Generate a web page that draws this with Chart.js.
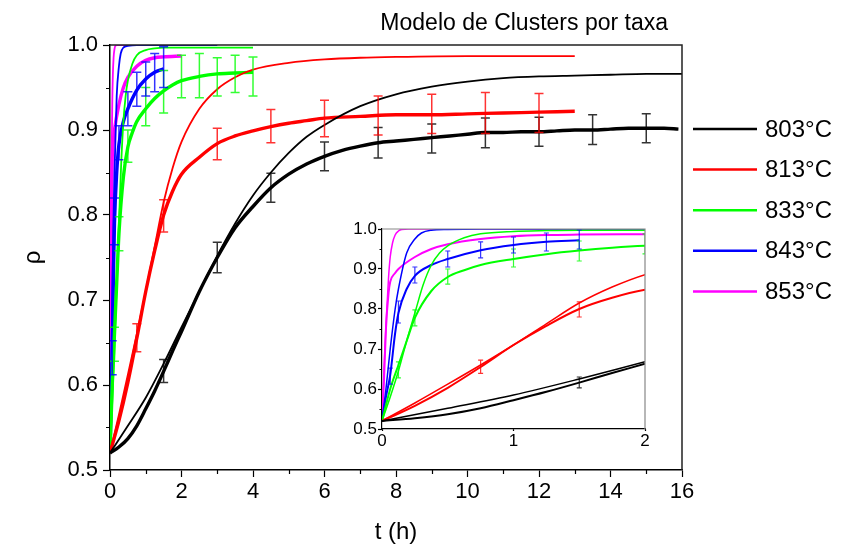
<!DOCTYPE html>
<html><head><meta charset="utf-8">
<script src="https://cdn.jsdelivr.net/npm/chart.js@4.4.1/dist/chart.umd.min.js"></script>
<style>
html,body{margin:0;padding:0;background:#fff;}
#wrap{position:relative;width:843px;height:550px;}
#main{position:absolute;left:0;top:0;}
#inset{position:absolute;left:330px;top:215px;}
</style></head><body>
<div id="wrap"><canvas id="main" width="843" height="550"></canvas><canvas id="inset" width="330" height="240"></canvas></div>
<script>
// ---------- data ----------
const seriesLabels = ['803°C', '813°C', '833°C', '843°C', '853°C'];
const seriesColors = ['#000000', '#ff0000', '#00ff00', '#0000ff', '#ff00ff'];
const chartTitle = 'Modelo de Clusters por taxa';
const xTitle = 't (h)';
const yTitle = 'ρ';

// 803°C
const tBlackData = [0,0.25,0.5,0.75,1,1.25,1.5,1.75,2,2.5,3,3.5,4,4.5,5,5.5,6,6.5,7,7.5,8,8.5,9,9.5,10,10.5,11,11.5,12,12.5,13,13.5,14,14.5,15,15.5,15.9];
const rhoBlackData = [0.52,0.527,0.537,0.552,0.572,0.593,0.616,0.64,0.663,0.71,0.75,0.785,0.81,0.832,0.848,0.86,0.869,0.876,0.881,0.885,0.887,0.889,0.891,0.893,0.895,0.897,0.897,0.898,0.898,0.899,0.9,0.9,0.901,0.902,0.902,0.902,0.901];
const tBlackModel = [0,0.5,1,1.5,2,2.5,3,3.5,4,4.5,5,5.5,6,7,8,9,10,11,12,13,14,15,16];
const rhoBlackModel = [0.52,0.552,0.585,0.625,0.668,0.71,0.752,0.79,0.823,0.85,0.873,0.892,0.906,0.928,0.942,0.951,0.957,0.961,0.963,0.964,0.965,0.966,0.966];
const ebBlack = [[1.5,0.603,0.63],[3,0.732,0.768],[4.5,0.815,0.849],[6,0.852,0.886],[7.5,0.867,0.903],[9,0.873,0.907],[10.5,0.879,0.914],[12,0.881,0.915],[13.5,0.883,0.918],[15,0.885,0.919]];

// 813°C
const tRedData = [0,0.25,0.5,0.75,1,1.25,1.5,1.75,2,2.5,3,3.5,4,4.5,5,5.5,6,7,8,9,10,11,12,13];
const rhoRedData = [0.52,0.558,0.603,0.655,0.71,0.758,0.80,0.828,0.848,0.868,0.884,0.893,0.899,0.904,0.908,0.911,0.914,0.916,0.918,0.918,0.919,0.92,0.921,0.922];
const tRedModel = [0,0.25,0.5,0.75,1,1.25,1.5,1.75,2,2.5,3,3.5,4,5,6,7,8,10,13];
const rhoRedModel = [0.52,0.565,0.612,0.66,0.71,0.763,0.815,0.855,0.886,0.925,0.948,0.962,0.971,0.979,0.983,0.985,0.986,0.987,0.987];
const ebRed = [[0.75,0.639,0.672],[1.5,0.78,0.818],[3,0.865,0.902],[4.5,0.885,0.924],[6,0.892,0.935],[7.5,0.894,0.94],[9,0.896,0.942],[10.5,0.896,0.944],[12,0.897,0.943]];

// 833°C
const tGreenData = [0,0.0625,0.125,0.1875,0.25,0.375,0.5,0.625,0.75,1,1.25,1.5,1.75,2,2.5,3,3.5,4];
const rhoGreenData = [0.52,0.6,0.66,0.72,0.778,0.845,0.88,0.897,0.91,0.925,0.937,0.946,0.953,0.958,0.963,0.966,0.967,0.968];
const tGreenModel = [0,0.0625,0.125,0.1875,0.25,0.3125,0.375,0.4375,0.5,0.625,0.75,1,1.25,1.5,2,3,4];
const rhoGreenModel = [0.52,0.58,0.645,0.72,0.79,0.86,0.91,0.94,0.958,0.978,0.988,0.994,0.996,0.997,0.997,0.997,0.997];
const ebGreen = [[0.125,0.628,0.668],[0.25,0.758,0.798],[0.5,0.862,0.9],[1,0.905,0.95],[1.5,0.92,0.97],[2,0.938,0.988],[2.5,0.938,0.99],[3,0.94,0.985],[3.5,0.944,0.988],[4,0.94,0.986]];

// 843°C
const tBlueData = [0,0.03,0.0625,0.1,0.125,0.1875,0.25,0.375,0.5,0.75,1,1.25,1.5];
const rhoBlueData = [0.52,0.58,0.635,0.74,0.79,0.85,0.883,0.91,0.925,0.947,0.96,0.968,0.972];
const tBlueModel = [0,0.03,0.0625,0.1,0.125,0.1875,0.25,0.3,0.375,0.5,0.75,3];
const rhoBlueModel = [0.52,0.6,0.7,0.8,0.85,0.94,0.975,0.99,0.997,0.999,1.0,1.0];
const ebBlue = [[0.0625,0.612,0.652],[0.125,0.765,0.82],[0.25,0.865,0.905],[0.5,0.905,0.945],[0.75,0.928,0.968],[1,0.94,0.98],[1.25,0.945,0.99],[1.5,0.95,0.998]];

// 853°C
const tMagData = [0,0.015,0.03,0.05,0.0625,0.1,0.125,0.25,0.375,0.5,0.75,1,1.25,1.5,2];
const rhoMagData = [0.52,0.62,0.75,0.84,0.868,0.89,0.9,0.93,0.95,0.962,0.975,0.982,0.985,0.986,0.987];
const tMagModel = [0,0.015,0.03,0.05,0.0625,0.08,0.1,0.125,0.15,0.2,2];
const rhoMagModel = [0.52,0.65,0.76,0.88,0.93,0.965,0.985,0.995,0.999,1.0,1.0];
const ebMag = [];

const xTicksMain = {min: 0, max: 16, step: 2};
const yTicks = {min: 0.5, max: 1.0, step: 0.1};
const xTicksInset = {min: 0, max: 2, step: 1};

// ---------- build ----------
const FONT = "'Liberation Sans', Arial, Helvetica, sans-serif";
const groups = [
  {t: tBlackData, r: rhoBlackData, tm: tBlackModel, rm: rhoBlackModel, eb: ebBlack},
  {t: tRedData, r: rhoRedData, tm: tRedModel, rm: rhoRedModel, eb: ebRed},
  {t: tGreenData, r: rhoGreenData, tm: tGreenModel, rm: rhoGreenModel, eb: ebGreen},
  {t: tBlueData, r: rhoBlueData, tm: tBlueModel, rm: rhoBlueModel, eb: ebBlue},
  {t: tMagData, r: rhoMagData, tm: tMagModel, rm: rhoMagModel, eb: ebMag}
];
const zip = (a, b) => a.map((v, i) => ({x: v, y: b[i]}));

function makeDatasets(dataW, modelW) {
  const ds = [];
  groups.forEach((g, i) => {
    ds.push({label: seriesLabels[i] + ' data', data: zip(g.t, g.r), borderColor: seriesColors[i],
      borderWidth: dataW, pointRadius: 0, cubicInterpolationMode: 'monotone', fill: false});
    ds.push({label: seriesLabels[i], data: zip(g.tm, g.rm), borderColor: seriesColors[i],
      borderWidth: modelW, pointRadius: 0, cubicInterpolationMode: 'monotone', fill: false});
  });
  return ds;
}

function makeDecor(cfg) {
  return {
    id: 'decor',
    afterDatasetsDraw(chart) {
      const {ctx, chartArea: ca, scales: {x, y}} = chart;
      ctx.save();
      ctx.beginPath();
      ctx.rect(ca.left, ca.top - 2, ca.right - ca.left, ca.bottom - ca.top + 4);
      ctx.clip();
      groups.forEach((g, i) => {
        ctx.strokeStyle = seriesColors[i];
        ctx.globalAlpha = 0.8;
        ctx.lineWidth = cfg.ebWidth;
        g.eb.forEach(([t, lo, hi]) => {
          const px = x.getPixelForValue(t), p1 = y.getPixelForValue(lo), p2 = y.getPixelForValue(hi);
          ctx.beginPath();
          ctx.moveTo(px, p1); ctx.lineTo(px, p2);
          ctx.moveTo(px - cfg.cap, p1); ctx.lineTo(px + cfg.cap, p1);
          ctx.moveTo(px - cfg.cap, p2); ctx.lineTo(px + cfg.cap, p2);
          ctx.stroke();
        });
      });
      ctx.restore();
    },
    afterDraw(chart) {
      const {ctx, chartArea: ca, scales: {x, y}} = chart;
      ctx.save();
      // frame top/right
      ctx.strokeStyle = cfg.frameColor;
      ctx.lineWidth = cfg.frameWidth;
      ctx.beginPath();
      ctx.moveTo(ca.left, ca.top); ctx.lineTo(ca.right, ca.top); ctx.lineTo(ca.right, ca.bottom);
      ctx.stroke();
      // minor ticks
      ctx.strokeStyle = '#000';
      ctx.lineWidth = 1.2;
      ctx.beginPath();
      for (let v = yTicks.min + yTicks.step / 2; v < yTicks.max; v += yTicks.step) {
        const py = Math.round(y.getPixelForValue(v)) + 0.5;
        ctx.moveTo(ca.left, py); ctx.lineTo(ca.left - cfg.minor, py);
      }
      if (cfg.xMinor) {
        for (let v = x.min + cfg.xStep / 2; v < x.max; v += cfg.xStep) {
          const px = Math.round(x.getPixelForValue(v)) + 0.5;
          ctx.moveTo(px, ca.bottom); ctx.lineTo(px, ca.bottom + cfg.minor);
        }
      }
      ctx.stroke();
      if (cfg.legend) {
        ctx.textBaseline = 'middle';
        ctx.textAlign = 'left';
        ctx.font = '24px ' + FONT;
        seriesLabels.forEach((lab, i) => {
          const yy = 129 + i * 40.6;
          ctx.strokeStyle = seriesColors[i];
          ctx.lineWidth = 2.5;
          ctx.beginPath(); ctx.moveTo(693, yy); ctx.lineTo(757, yy); ctx.stroke();
          ctx.fillStyle = '#000';
          ctx.fillText(lab, 765, yy + 1);
        });
        ctx.font = '23px ' + FONT;
        ctx.textAlign = 'right';
        ctx.fillText(chartTitle, 668, 24);
      }
      ctx.restore();
    }
  };
}

function axisCfg(min, max, step, fontSize, tickLen, pad, fixed) {
  return {
    type: 'linear', min: min, max: max,
    ticks: {stepSize: step, color: '#000', font: {family: FONT, size: fontSize}, padding: pad, maxRotation: 0,
      callback: v => fixed ? v.toFixed(1) : String(Math.round(v))},
    grid: {drawOnChartArea: false, tickLength: tickLen, tickColor: '#000', tickWidth: 1.2},
    border: {color: '#000', width: 1.5}
  };
}

// main chart
const xMain = axisCfg(xTicksMain.min, xTicksMain.max, xTicksMain.step, 22, 7, 2, false);
xMain.title = {display: true, text: xTitle, color: '#000', font: {family: FONT, size: 24}, padding: {top: 0, bottom: 3}};
xMain.afterFit = s => { s.height = 80; };
const yMain = axisCfg(yTicks.min, yTicks.max, yTicks.step, 22, 7, 5, true);
yMain.title = {display: true, text: yTitle, color: '#000', font: {family: FONT, size: 24}, padding: {top: 19, bottom: 0}};
yMain.afterFit = s => { s.width = 110; };

new Chart(document.getElementById('main'), {
  type: 'line',
  data: {datasets: makeDatasets(3.4, 1.8)},
  options: {
    responsive: false, animation: false, parsing: true,
    layout: {padding: {top: 45, right: 161, left: 0, bottom: 0}},
    plugins: {legend: {display: false}, title: {display: false}, tooltip: {enabled: false}},
    scales: {x: xMain, y: yMain}
  },
  plugins: [makeDecor({ebWidth: 1.5, cap: 4.5, frameColor: '#222', frameWidth: 1.5, minor: 4, xMinor: true, xStep: xTicksMain.step, legend: true})]
});

// inset chart
const xIn = axisCfg(xTicksInset.min, xTicksInset.max, xTicksInset.step, 17, 2, 0, false);
xIn.afterFit = s => { s.height = 26; };
const yIn = axisCfg(yTicks.min, yTicks.max, yTicks.step, 17, 4, 1, true);
yIn.afterFit = s => { s.width = 52; };
xIn.border = {color: '#000', width: 1.2};
yIn.border = {color: '#000', width: 1.2};

new Chart(document.getElementById('inset'), {
  type: 'line',
  data: {datasets: makeDatasets(2, 1.5)},
  options: {
    responsive: false, animation: false,
    layout: {padding: {top: 14, right: 15, left: 0, bottom: 0}},
    plugins: {legend: {display: false}, title: {display: false}, tooltip: {enabled: false}},
    scales: {x: xIn, y: yIn}
  },
  plugins: [makeDecor({ebWidth: 1.2, cap: 2.5, frameColor: '#888', frameWidth: 1.2, minor: 2.5, xMinor: false, xStep: 1, legend: false})]
});
</script>
</body></html>
